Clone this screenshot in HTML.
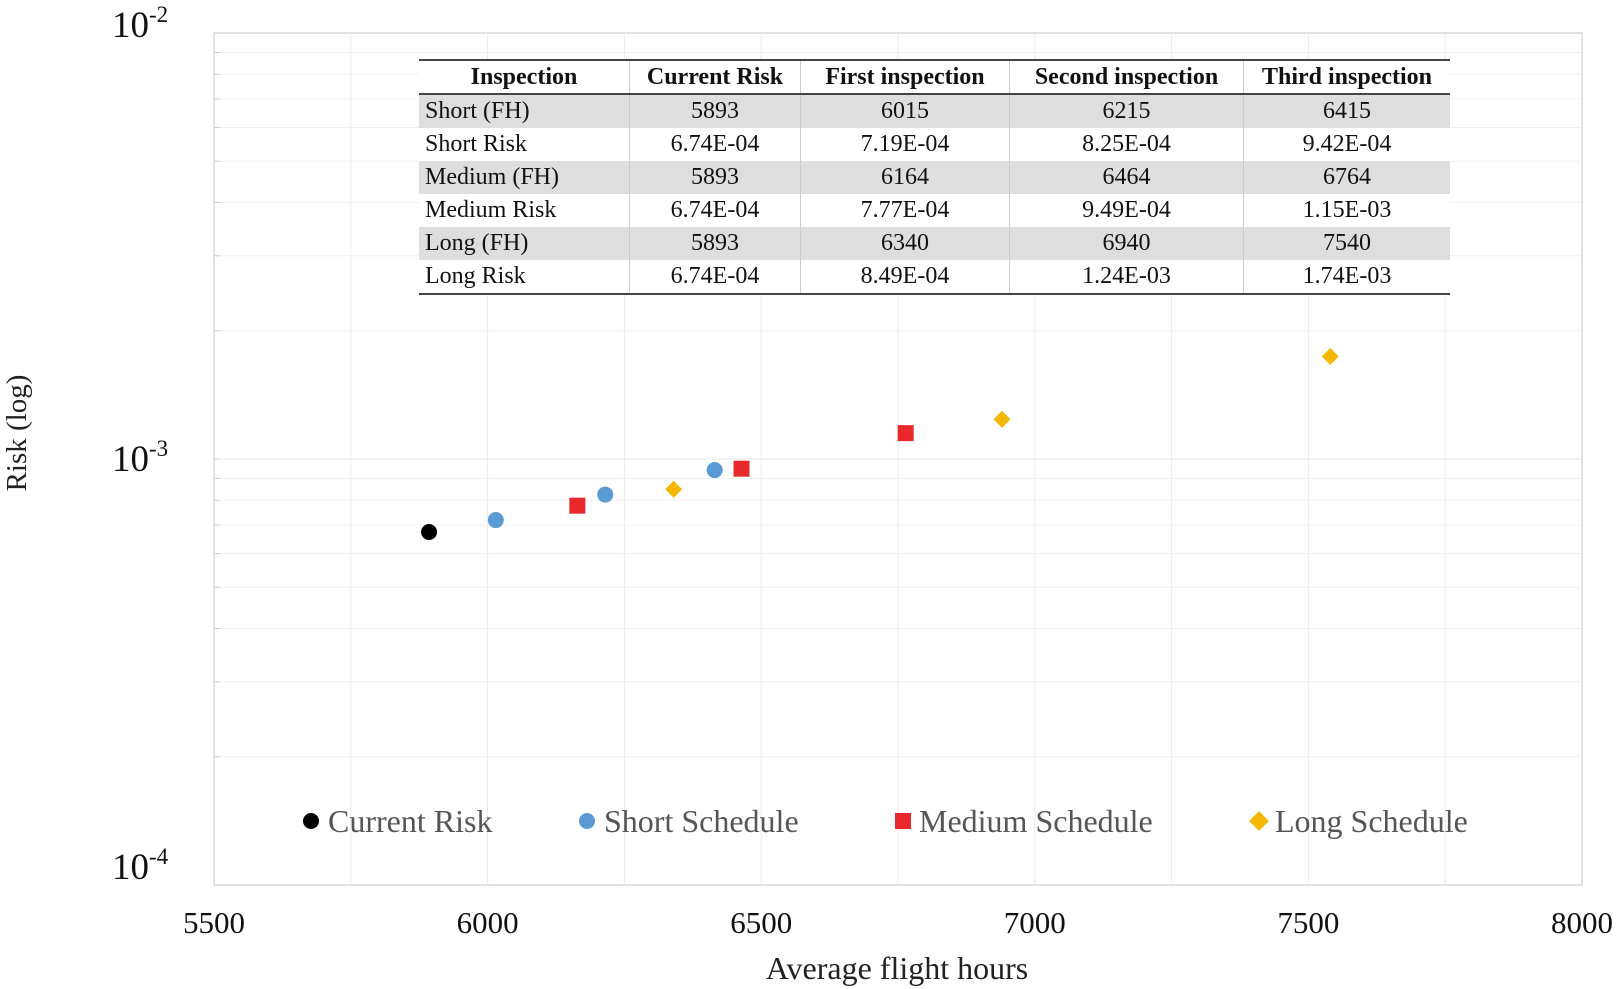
<!DOCTYPE html>
<html><head><meta charset="utf-8"><style>
html,body{margin:0;padding:0;background:#fff;}
body{width:1616px;height:989px;overflow:hidden;position:relative;font-family:"Liberation Serif",serif;}
svg{position:absolute;left:0;top:0;}
table{position:absolute;left:419px;top:59px;width:1031px;border-collapse:collapse;font-family:"Liberation Serif",serif;font-size:24px;color:#111;border-top:2px solid #444;border-bottom:2px solid #444;background:#fff;}
th{font-weight:bold;height:32px;border-bottom:2px solid #444;padding:0;}
td{height:33px;padding:0;text-align:center;border-left:1px solid #ccc;}
td:first-child{text-align:left;padding-left:6px;border-left:none;}
th+th{border-left:1px solid #ccc;}
tr.g td{background:#dedede;}
</style></head><body>
<svg width="1616" height="989">
<g id="grid"></g>
<g id="axes"></g>
<g id="marks"></g>
<text x="897" y="979" text-anchor="middle" font-size="32" fill="#222" font-family="Liberation Serif">Average flight hours</text>
<text transform="translate(26,433) rotate(-90)" text-anchor="middle" font-size="29" fill="#222" font-family="Liberation Serif">Risk (log)</text>
<g font-family="Liberation Serif" font-size="32" fill="#555">
<circle cx="311" cy="821" r="8" fill="#000"/>
<text x="328" y="832">Current Risk</text>
<circle cx="587" cy="821" r="8" fill="#5b9bd5"/>
<text x="604" y="832">Short Schedule</text>
<rect x="895" y="813" width="16" height="16" fill="#e8282a"/>
<text x="919" y="832">Medium Schedule</text>
<rect x="1252" y="814" width="14" height="14" fill="#f5b800" transform="rotate(45 1259 821)"/>
<text x="1275" y="832">Long Schedule</text>
</g>
</svg>
<table>
<tr><th style="width:210px">Inspection</th><th style="width:170px">Current Risk</th><th style="width:208px">First inspection</th><th style="width:233px">Second inspection</th><th>Third inspection</th></tr>
<tr class="g"><td>Short (FH)</td><td>5893</td><td>6015</td><td>6215</td><td>6415</td></tr>
<tr><td>Short Risk</td><td>6.74E-04</td><td>7.19E-04</td><td>8.25E-04</td><td>9.42E-04</td></tr>
<tr class="g"><td>Medium (FH)</td><td>5893</td><td>6164</td><td>6464</td><td>6764</td></tr>
<tr><td>Medium Risk</td><td>6.74E-04</td><td>7.77E-04</td><td>9.49E-04</td><td>1.15E-03</td></tr>
<tr class="g"><td>Long (FH)</td><td>5893</td><td>6340</td><td>6940</td><td>7540</td></tr>
<tr><td>Long Risk</td><td>6.74E-04</td><td>8.49E-04</td><td>1.24E-03</td><td>1.74E-03</td></tr>
</table>
<script>
const xTicks=[5500,6000,6500,7000,7500,8000];
const yExps=[-2,-3,-4];
const currentX=[5893], currentY=[6.74e-4];
const shortX=[6015,6215,6415], shortY=[7.19e-4,8.25e-4,9.42e-4];
const mediumX=[6164,6464,6764], mediumY=[7.77e-4,9.49e-4,1.15e-3];
const longX=[6340,6940,7540], longY=[8.49e-4,1.24e-3,1.74e-3];
const NS='http://www.w3.org/2000/svg';
const L=214,R=1582,T=33,B=885;
const sx=v=>L+(v-5500)/2500*(R-L);
const sy=v=>B-(Math.log10(v)+4)/2*(B-T);
function mk(tag,attrs,parent){const e=document.createElementNS(NS,tag);for(const k in attrs)e.setAttribute(k,attrs[k]);parent.appendChild(e);return e;}
const grid=document.getElementById('grid'),axes=document.getElementById('axes'),marks=document.getElementById('marks');
for(let v=5500;v<=8000;v+=250){const l=mk('line',{x1:sx(v),x2:sx(v),y1:T,y2:B,stroke:'#ebebeb','stroke-width':1},grid);

}
for(let d=-4;d<-2;d++){for(let m=1;m<10;m++){const y=sy(m*Math.pow(10,d));const l=mk('line',{x1:L,x2:R,y1:y,y2:y,stroke:m==1?'#e4e4e4':'#f0f0f0','stroke-width':1},grid);


const t=mk('line',{x1:L,x2:L+6,y1:y,y2:y,stroke:'#ccc','stroke-width':1},grid);

}}
const fr=mk('rect',{x:L,y:T,width:R-L,height:B-T,fill:'none',stroke:'#d9d9d9','stroke-width':1.5},axes);


xTicks.forEach(v=>{const t=mk('text',{x:sx(v),y:933,'text-anchor':'middle','font-size':31,fill:'#111','font-family':'Liberation Serif'},axes);t.textContent=v;

});
yExps.forEach(e=>{const y=sy(Math.pow(10,e));const off=e==-2?-8:(e==-4?-18:0);const t=mk('text',{x:112,y:y+12+off,'font-size':37,fill:'#111','font-family':'Liberation Serif'},axes);t.textContent='10';
const s=mk('tspan',{dy:-15,'font-size':23},t);s.textContent=String(e);

});
function circ(xs,ys,c,name){xs.forEach((x,i)=>{const e=mk('circle',{cx:sx(x),cy:sy(ys[i]),r:8,fill:c},marks);

});}
circ(currentX,currentY,'#000','point-current');
circ(shortX,shortY,'#5b9bd5','point-short');
mediumX.forEach((x,i)=>{const e=mk('rect',{x:sx(x)-8,y:sy(mediumY[i])-8,width:16,height:16,fill:'#e8282a'},marks);

});
longX.forEach((x,i)=>{const cx=sx(x),cy=sy(longY[i]);const e=mk('rect',{x:cx-6,y:cy-6,width:12,height:12,fill:'#f5b800',transform:`rotate(45 ${cx} ${cy})`},marks);

});
</script>
</body></html>
